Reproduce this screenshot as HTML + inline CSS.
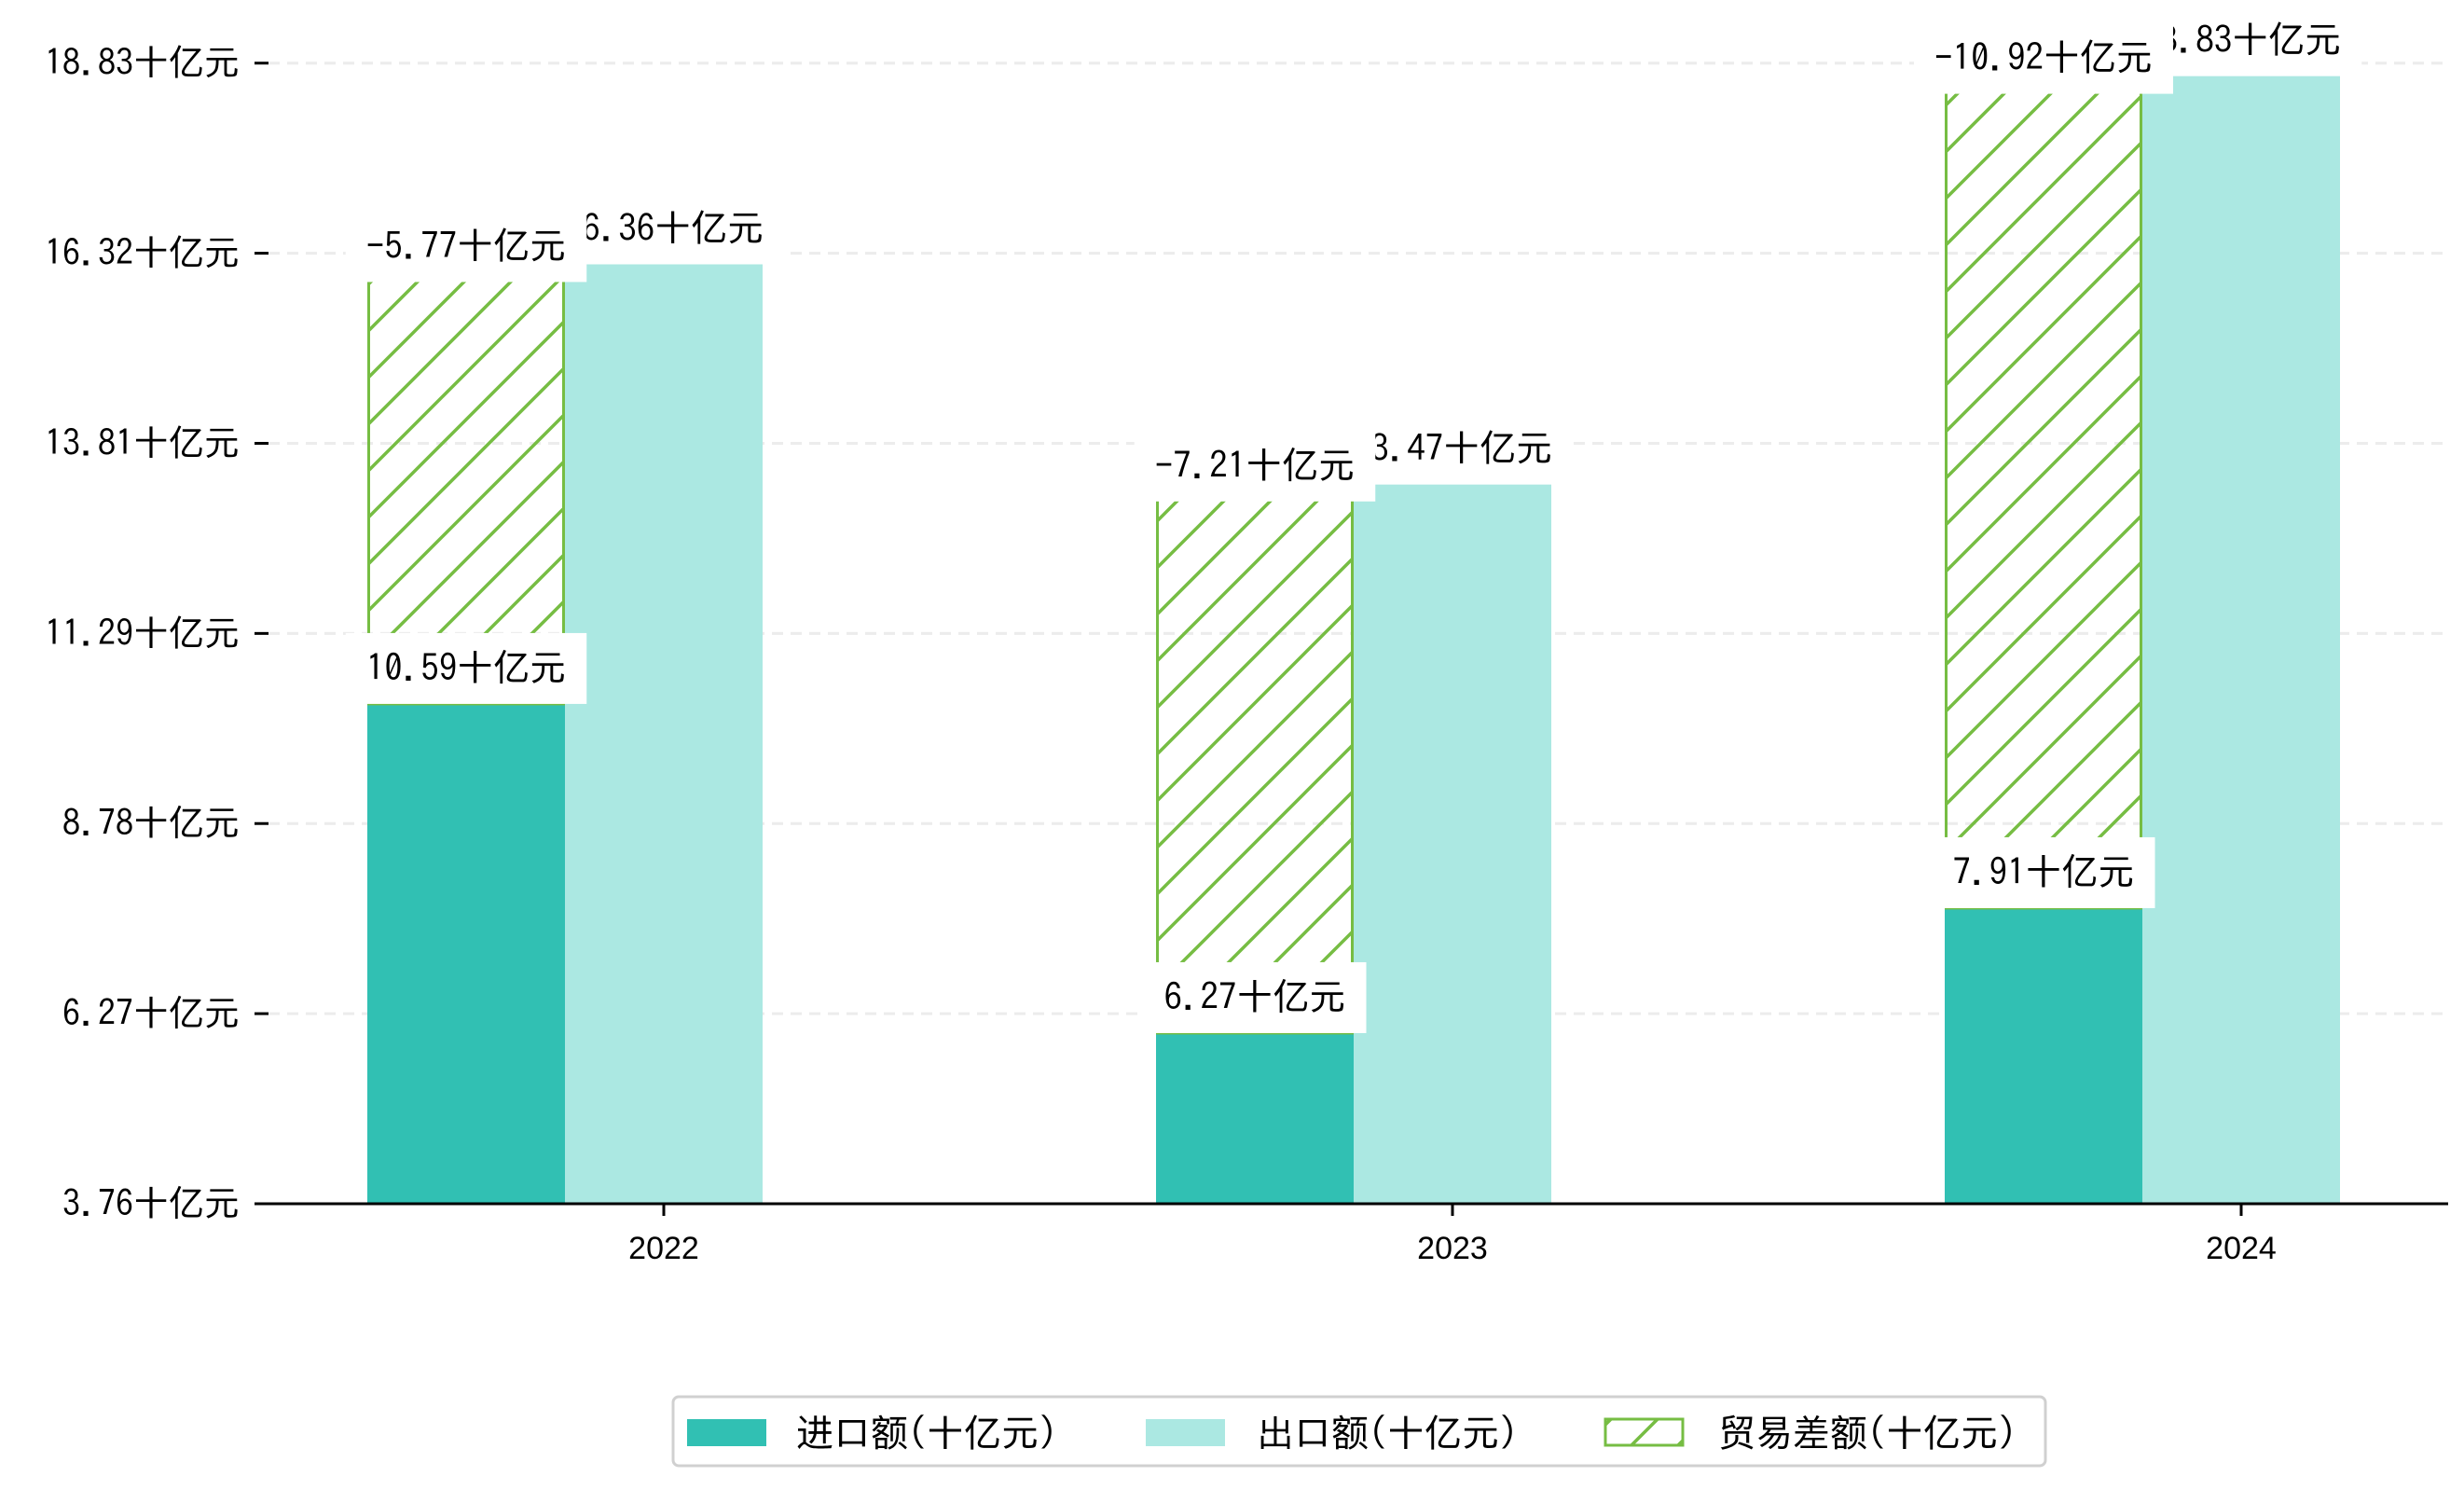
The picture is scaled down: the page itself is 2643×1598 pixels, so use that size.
<!DOCTYPE html>
<html><head><meta charset="utf-8">
<style>
html,body{margin:0;padding:0;background:#fff;}
svg{display:block;}
text{font-family:"IPAGothic","Noto Sans CJK SC",sans-serif;fill:#000;}
text.xl{font-family:"Liberation Sans","Noto Sans CJK SC",sans-serif;}
</style></head>
<body>
<svg id="chart" width="2643" height="1598" viewBox="0 0 2643 1598" xmlns="http://www.w3.org/2000/svg">
<defs>
<pattern id="hatch" patternUnits="userSpaceOnUse" width="50" height="50">
<line x1="-5" y1="55" x2="55" y2="-5" stroke="#76BD43" stroke-width="3.5"/>
<line x1="-30" y1="30" x2="30" y2="-30" stroke="#76BD43" stroke-width="3.5"/>
<line x1="20" y1="80" x2="80" y2="20" stroke="#76BD43" stroke-width="3.5"/>
</pattern>
</defs>
<g id="grid"></g>
<g id="bars"></g>
<g id="labels"></g>
<g id="axes"></g>
<g id="legend">
<rect x="722" y="1498" width="1472" height="74" rx="6" fill="#fff" stroke="#d0d0d0" stroke-width="3"/>
<g>
<rect x="737" y="1522" width="85" height="29" fill="#31C0B3"/>
<text x="854" y="1551" font-size="40">进口额(十亿元)</text>
</g>
<g>
<rect x="1229" y="1522" width="85" height="29" fill="#ABE8E2"/>
<text x="1348" y="1551" font-size="40">出口额(十亿元)</text>
</g>
<g>
<rect x="1722" y="1522" width="83" height="28" fill="url(#hatch)" stroke="#76BD43" stroke-width="3"/>
<text x="1843" y="1551" font-size="40">贸易差额(十亿元)</text>
</g>
</g>
</svg>
<script>
const categories = ["2022", "2023", "2024"];
const importValues = [10.59, 6.27, 7.91];
const exportValues = [16.36, 13.47, 18.83];
const balanceValues = [-5.77, -7.21, -10.92];
const yTickLabels = ["3.76", "6.27", "8.78", "11.29", "13.81", "16.32", "18.83"];
const unit = "十亿元";

const NS = "http://www.w3.org/2000/svg";
const yMin = 4.03, yMax = 19.0;
const plotTop = 67.7, plotBottom = 1291, plotLeft = 288, plotRight = 2626;
const barW = 212;
function y(v){ return plotBottom - (v - yMin) / (yMax - yMin) * (plotBottom - plotTop); }
function xc(i){ return 712 + i * 846; }
function mk(tag, attrs, parent){ const e = document.createElementNS(NS, tag); for (const k in attrs) e.setAttribute(k, attrs[k]); parent.appendChild(e); return e; }

const grid = document.getElementById('grid');
const axes = document.getElementById('axes');
const bars = document.getElementById('bars');
const labels = document.getElementById('labels');

yTickLabels.forEach((lab, k) => {
  const v = yMin + k * (yMax - yMin) / (yTickLabels.length - 1);
  const yy = y(v);
  if (k > 0) {
    const g = mk('line', {x1: plotLeft, x2: plotRight, y1: yy, y2: yy, stroke: '#ececec', 'stroke-width': 3, 'stroke-dasharray': '12 8'}, grid);
    
    
  }
  const t = mk('line', {x1: 273, x2: 288, y1: yy, y2: yy, stroke: '#000', 'stroke-width': 3}, axes);
  
  
  const tx = mk('text', {x: 257, y: yy + 13, 'font-size': 38, 'text-anchor': 'end'}, axes);
  tx.textContent = lab + unit;
  
  
});

const spine = mk('line', {x1: 273, x2: plotRight, y1: plotBottom, y2: plotBottom, stroke: '#000', 'stroke-width': 3}, axes);



function addLabel(cx, bottomY, str, name){
  const g = mk('g', {}, labels);
  
  
  const r = mk('rect', {x: cx - 133, y: bottomY - 76, width: 266, height: 76, fill: '#fff'}, g);
  
  
  const t = mk('text', {x: cx, y: bottomY - 25, 'font-size': 39, 'text-anchor': 'middle'}, g);
  t.textContent = str;
  
  
  const w = t.getComputedTextLength();
  r.setAttribute('x', cx - w / 2 - 22);
  r.setAttribute('width', w + 44);
}

categories.forEach((c, i) => {
  const ic = xc(i) - barW, ec = xc(i);
  const b1 = mk('rect', {x: ic - barW / 2, y: y(importValues[i]), width: barW, height: plotBottom - y(importValues[i]), fill: '#31C0B3'}, bars);
  
  
  const b2 = mk('rect', {x: ec - barW / 2, y: y(exportValues[i]), width: barW, height: plotBottom - y(exportValues[i]), fill: '#ABE8E2'}, bars);
  
  
  const top = importValues[i] + Math.abs(balanceValues[i]);
  const b3 = mk('rect', {x: ic - barW / 2 + 1.5, y: y(top), width: barW - 3, height: y(importValues[i]) - y(top), fill: 'url(#hatch)', stroke: '#76BD43', 'stroke-width': 3}, bars);
  
  

  const tk = mk('line', {x1: xc(i), x2: xc(i), y1: plotBottom, y2: plotBottom + 13, stroke: '#000', 'stroke-width': 3}, axes);
  
  
  const tl = mk('text', {x: xc(i), y: 1350, 'font-size': 34, 'text-anchor': 'middle', 'class': 'xl'}, axes);
  tl.textContent = c;
  
  

  addLabel(ic, y(importValues[i]), importValues[i].toFixed(2) + unit, 'label-import-' + c);
  addLabel(ec, y(exportValues[i]), exportValues[i].toFixed(2) + unit, 'label-export-' + c);
  addLabel(ic, y(top) + 19, balanceValues[i].toFixed(2) + unit, 'label-balance-' + c);
});
</script>
</body></html>
